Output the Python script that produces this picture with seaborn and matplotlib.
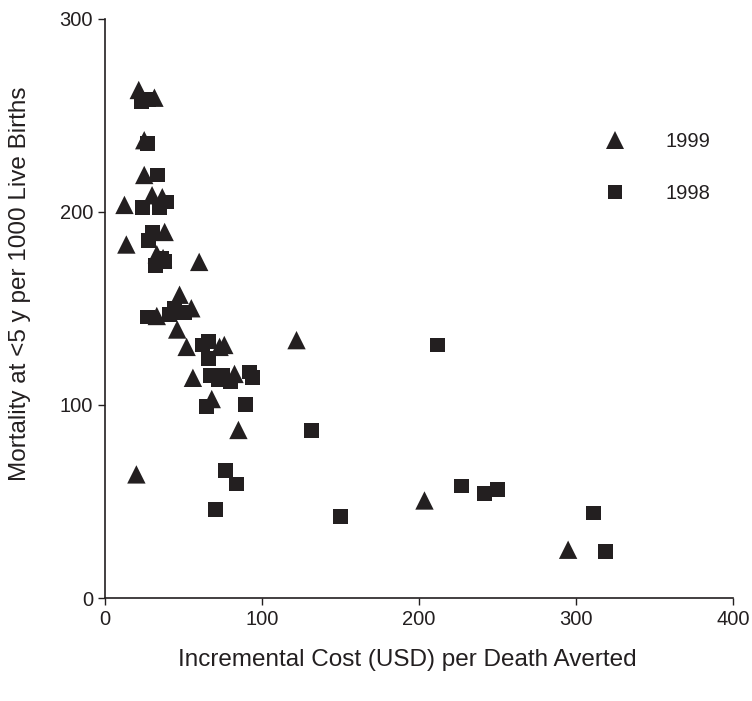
import matplotlib
matplotlib.use("Agg")
import matplotlib.pyplot as plt
import seaborn as sns
import pandas as pd
from matplotlib.lines import Line2D

# 1999 (triangles)
x_1999 = [21.5, 31.5, 25, 25, 12.4, 30, 36.5, 38, 13.6, 33, 37, 47.5, 33, 55, 60,
          46, 52, 73, 76, 56, 78, 82.5, 68, 85, 20, 122, 203.5, 295]
y_1999 = [263, 259, 237, 219, 203.5, 208.5, 207.5, 189.5, 183, 178, 176, 157, 146, 150, 174,
          139, 130, 130, 131, 114, 114, 116, 103, 87, 64, 133.5, 50.5, 25]
# 1998 (squares)
x_1998 = [23, 28, 27, 33.5, 24, 34.5, 39, 28, 30, 32, 36, 38, 27, 41, 44, 50.5, 62,
          66, 66, 67, 72, 75, 80, 64.5, 89.5, 94, 92, 77, 84, 70.4, 131.5, 150, 212,
          227, 241.6, 250, 311, 319]
y_1998 = [257, 258, 235.5, 219, 202, 202, 205, 185, 189, 172, 176, 174, 145.5, 147, 150, 148, 131,
          133, 124, 115, 113, 115, 112, 99, 100, 114, 117, 66, 59, 46, 86.5, 42, 131,
          58, 54, 56, 44, 24]

x_ticks = [0, 100, 200, 300, 400]
y_ticks = [0, 100, 200, 300]
x_label = "Incremental Cost (USD) per Death Averted"
y_label = "Mortality at <5 y per 1000 Live Births"

sns.set_theme(style="ticks")
plt.rcParams['font.family'] = ['Liberation Sans', 'DejaVu Sans']
ink = "#231f20"

df99 = pd.DataFrame({"x": x_1999, "y": y_1999})
df98 = pd.DataFrame({"x": x_1998, "y": y_1998})

fig = plt.figure(figsize=(7.52, 7.01), dpi=100)
ax = fig.add_axes([0.1396, 0.1469, 0.8351, 0.8267])

sns.scatterplot(data=df98, x="x", y="y", marker="s", s=115, color=ink,
                edgecolor="none", linewidth=0, ax=ax, zorder=3)
sns.scatterplot(data=df99, x="x", y="y", marker="^", s=175, color=ink,
                edgecolor="none", linewidth=0, ax=ax, zorder=3)

ax.set_xlim(0, 400)
ax.set_ylim(0, 300)
ax.set_xticks(x_ticks)
ax.set_yticks(y_ticks)
ax.tick_params(axis="both", labelsize=14.5, colors=ink, length=5, width=1, direction="out")
for s in ["top", "right"]:
    ax.spines[s].set_visible(False)
for s in ["left", "bottom"]:
    ax.spines[s].set_color(ink)
    ax.spines[s].set_linewidth(1.2)
ax.set_xlabel(x_label, fontsize=17.5, color=ink)
ax.set_ylabel(y_label, fontsize=17.5, color=ink)
ax.xaxis.set_label_coords(0.482, -0.088)
ax.yaxis.set_label_coords(-0.118, 0.543)

handles = [
    Line2D([], [], marker="^", linestyle="none", color=ink, markersize=13, markeredgewidth=0),
    Line2D([], [], marker="s", linestyle="none", color=ink, markersize=10.5, markeredgewidth=0),
]
leg = ax.legend(handles, ["1999", "1998"], loc="upper left", bbox_to_anchor=(0.752, 0.835),
                frameon=False, fontsize=14.5, labelspacing=1.65, handletextpad=1.5,
                labelcolor=ink)

fig.savefig("out.png", dpi=100)
